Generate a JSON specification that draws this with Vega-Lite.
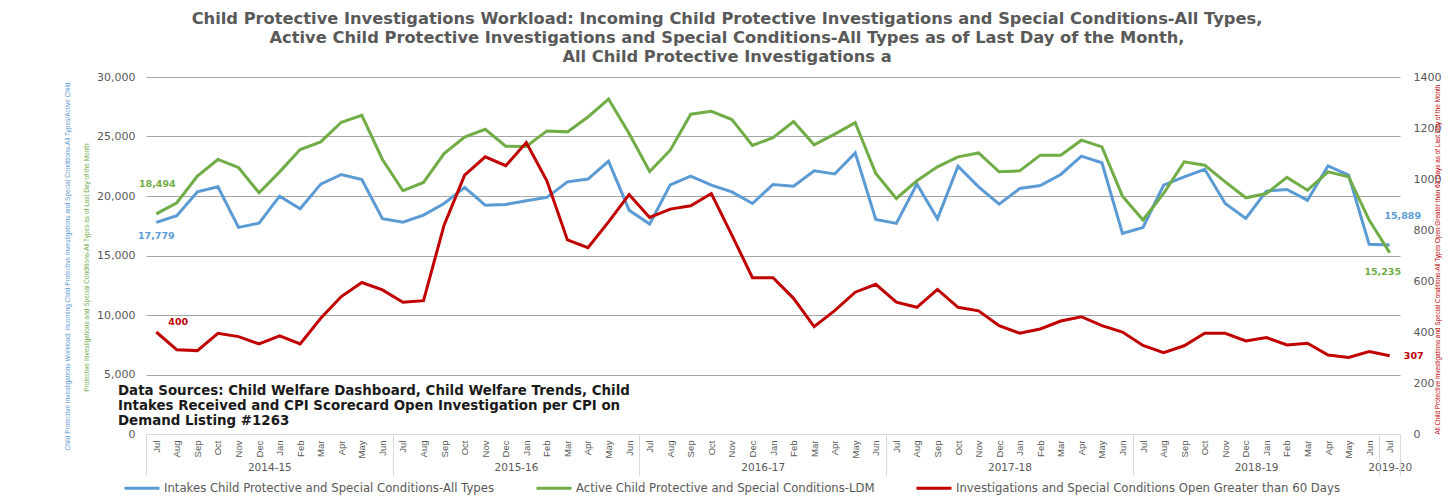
{
  "$schema": "https://vega.github.io/schema/vega-lite/v6.json",
  "width": 1254,
  "height": 357,
  "autosize": {"type": "none"},
  "padding": {"left": 146, "top": 77, "right": 52, "bottom": 63},
  "background": "white",
  "config": {"view": {"stroke": null}, "font": "DejaVu Sans"},
  "title": {
    "text": [
      "Child Protective Investigations Workload: Incoming Child Protective Investigations and Special Conditions-All Types,",
      "Active Child Protective Investigations and Special Conditions-All Types as of Last Day of the Month,",
      "All Child Protective Investigations a"
    ],
    "font": "DejaVu Sans",
    "fontSize": 16.3,
    "fontWeight": "bold",
    "color": "#595959",
    "anchor": "middle",
    "frame": "group",
    "dx": -46,
    "offset": 6,
    "lineHeight": 18.7
  },
  "data": {
    "values": [
      {"i": 0, "month": "Jul", "intakes": 17779, "active": 18494, "open60": 400},
      {"i": 1, "month": "Aug", "intakes": 18340, "active": 19430, "open60": 330},
      {"i": 2, "month": "Sep", "intakes": 20350, "active": 21670, "open60": 327},
      {"i": 3, "month": "Oct", "intakes": 20770, "active": 23070, "open60": 395},
      {"i": 4, "month": "Nov", "intakes": 17360, "active": 22390, "open60": 382},
      {"i": 5, "month": "Dec", "intakes": 17720, "active": 20270, "open60": 353},
      {"i": 6, "month": "Jan", "intakes": 19990, "active": 22030, "open60": 385},
      {"i": 7, "month": "Feb", "intakes": 18930, "active": 23900, "open60": 353},
      {"i": 8, "month": "Mar", "intakes": 21000, "active": 24550, "open60": 454},
      {"i": 9, "month": "Apr", "intakes": 21810, "active": 26200, "open60": 539},
      {"i": 10, "month": "May", "intakes": 21390, "active": 26780, "open60": 594},
      {"i": 11, "month": "Jun", "intakes": 18090, "active": 23070, "open60": 565},
      {"i": 12, "month": "Jul", "intakes": 17800, "active": 20440, "open60": 517},
      {"i": 13, "month": "Aug", "intakes": 18390, "active": 21140, "open60": 523},
      {"i": 14, "month": "Sep", "intakes": 19370, "active": 23570, "open60": 819},
      {"i": 15, "month": "Oct", "intakes": 20720, "active": 24950, "open60": 1015},
      {"i": 16, "month": "Nov", "intakes": 19230, "active": 25610, "open60": 1087},
      {"i": 17, "month": "Dec", "intakes": 19290, "active": 24180, "open60": 1052},
      {"i": 18, "month": "Jan", "intakes": 19600, "active": 24160, "open60": 1143},
      {"i": 19, "month": "Feb", "intakes": 19880, "active": 25470, "open60": 993},
      {"i": 20, "month": "Mar", "intakes": 21190, "active": 25390, "open60": 761},
      {"i": 21, "month": "Apr", "intakes": 21420, "active": 26640, "open60": 731},
      {"i": 22, "month": "May", "intakes": 22930, "active": 28150, "open60": 832},
      {"i": 23, "month": "Jun", "intakes": 18810, "active": 25250, "open60": 939},
      {"i": 24, "month": "Jul", "intakes": 17640, "active": 22060, "open60": 849},
      {"i": 25, "month": "Aug", "intakes": 20940, "active": 23850, "open60": 882},
      {"i": 26, "month": "Sep", "intakes": 21670, "active": 26870, "open60": 895},
      {"i": 27, "month": "Oct", "intakes": 20910, "active": 27120, "open60": 943},
      {"i": 28, "month": "Nov", "intakes": 20350, "active": 26420, "open60": 780},
      {"i": 29, "month": "Dec", "intakes": 19370, "active": 24250, "open60": 613},
      {"i": 30, "month": "Jan", "intakes": 20970, "active": 24910, "open60": 613},
      {"i": 31, "month": "Feb", "intakes": 20830, "active": 26250, "open60": 532},
      {"i": 32, "month": "Mar", "intakes": 22110, "active": 24300, "open60": 421},
      {"i": 33, "month": "Apr", "intakes": 21850, "active": 25200, "open60": 484},
      {"i": 34, "month": "May", "intakes": 23620, "active": 26170, "open60": 556},
      {"i": 35, "month": "Jun", "intakes": 18030, "active": 21890, "open60": 587},
      {"i": 36, "month": "Jul", "intakes": 17700, "active": 19790, "open60": 517},
      {"i": 37, "month": "Aug", "intakes": 21000, "active": 21280, "open60": 497},
      {"i": 38, "month": "Sep", "intakes": 18090, "active": 22450, "open60": 567},
      {"i": 39, "month": "Oct", "intakes": 22510, "active": 23290, "open60": 497},
      {"i": 40, "month": "Nov", "intakes": 20770, "active": 23620, "open60": 483},
      {"i": 41, "month": "Dec", "intakes": 19320, "active": 22030, "open60": 425},
      {"i": 42, "month": "Jan", "intakes": 20630, "active": 22110, "open60": 395},
      {"i": 43, "month": "Feb", "intakes": 20880, "active": 23430, "open60": 412},
      {"i": 44, "month": "Mar", "intakes": 21810, "active": 23430, "open60": 443},
      {"i": 45, "month": "Apr", "intakes": 23350, "active": 24690, "open60": 460},
      {"i": 46, "month": "May", "intakes": 22790, "active": 24130, "open60": 425},
      {"i": 47, "month": "Jun", "intakes": 16860, "active": 19990, "open60": 400},
      {"i": 48, "month": "Jul", "intakes": 17360, "active": 17980, "open60": 347},
      {"i": 49, "month": "Aug", "intakes": 20910, "active": 20210, "open60": 319},
      {"i": 50, "month": "Sep", "intakes": 21610, "active": 22870, "open60": 346},
      {"i": 51, "month": "Oct", "intakes": 22250, "active": 22590, "open60": 395},
      {"i": 52, "month": "Nov", "intakes": 19370, "active": 21190, "open60": 395},
      {"i": 53, "month": "Dec", "intakes": 18120, "active": 19850, "open60": 365},
      {"i": 54, "month": "Jan", "intakes": 20410, "active": 20210, "open60": 378},
      {"i": 55, "month": "Feb", "intakes": 20550, "active": 21560, "open60": 349},
      {"i": 56, "month": "Mar", "intakes": 19650, "active": 20490, "open60": 356},
      {"i": 57, "month": "Apr", "intakes": 22530, "active": 22030, "open60": 310},
      {"i": 58, "month": "May", "intakes": 21750, "active": 21610, "open60": 300},
      {"i": 59, "month": "Jun", "intakes": 15940, "active": 17980, "open60": 323},
      {"i": 60, "month": "Jul", "intakes": 15889, "active": 15235, "open60": 307}
    ]
  },
  "resolve": {
    "scale": {"y": "independent"},
    "axis": {"x": "independent", "y": "independent"}
  },
  "layer": [
    {
      "encoding": {
        "x": {
          "field": "i",
          "type": "quantitative",
          "scale": {"domain": [-0.5, 60.5], "nice": false, "zero": false},
          "axis": {
            "orient": "bottom",
            "values": [0,1,2,3,4,5,6,7,8,9,10,11,12,13,14,15,16,17,18,19,20,21,22,23,24,25,26,27,28,29,30,31,32,33,34,35,36,37,38,39,40,41,42,43,44,45,46,47,48,49,50,51,52,53,54,55,56,57,58,59,60],
            "labelExpr": "['Jul','Aug','Sep','Oct','Nov','Dec','Jan','Feb','Mar','Apr','May','Jun'][datum.value % 12]",
            "labelAngle": -90,
            "ticks": false,
            "tickSize": 0,
            "domain": false,
            "grid": false,
            "labelPadding": 6,
            "labelFont": "Liberation Sans",
            "labelFontSize": 9.5,
            "labelColor": "#595959",
            "labelOverlap": false,
            "labelFlush": false,
            "labelBound": false,
            "title": null
          }
        },
        "y": {
          "field": "intakes",
          "type": "quantitative",
          "scale": {"domain": [0, 30000], "nice": false},
          "axis": {
            "orient": "left",
            "labels": false,
            "ticks": false,
            "domain": false,
            "grid": false,
            "title": "Child Protective Investigations Workload: Incoming Child Protective Investigations and Special Conditions-All Types/Active Child",
            "titleColor": "#5B9BD5",
            "titleFont": "Liberation Sans",
            "titleFontSize": 6.5,
            "titleFontWeight": "normal",
            "titlePadding": 76,
            "titleY": 189
          }
        }
      },
      "layer": [
        {
          "mark": {"type": "line", "strokeWidth": 3},
          "encoding": {
            "color": {
              "datum": "Intakes Child Protective and Special Conditions-All Types",
              "scale": {
                "domain": [
                  "Intakes Child Protective and Special Conditions-All Types",
                  "Active Child Protective and Special Conditions-LDM",
                  "Investigations and Special Conditions Open Greater than 60 Days"
                ],
                "range": ["#5B9BD5", "#70AD47", "#C00000"]
              },
              "legend": {
                "orient": "none",
                "legendX": -23,
                "legendY": 392,
                "direction": "horizontal",
                "title": null,
                "symbolType": "stroke",
                "symbolSize": 1225,
                "symbolStrokeWidth": 3,
                "labelFont": "DejaVu Sans",
                "labelFontSize": 11.7,
                "labelColor": "#595959",
                "labelOffset": 3,
                "labelLimit": 0,
                "columnPadding": 35
              }
            }
          }
        },
        {
          "transform": [{"filter": "datum.i == 0"}],
          "mark": {"type": "text", "dx": 0, "dy": 14, "fontSize": 9.5, "fontWeight": "bold", "color": "#5B9BD5"},
          "encoding": {"text": {"field": "intakes", "format": ","}}
        },
        {
          "transform": [{"filter": "datum.i == 60"}],
          "mark": {"type": "text", "dx": 13, "dy": -29, "fontSize": 9.5, "fontWeight": "bold", "color": "#5B9BD5"},
          "encoding": {"text": {"field": "intakes", "format": ","}}
        }
      ]
    },
    {
      "encoding": {
        "x": {
          "field": "i",
          "type": "quantitative",
          "scale": {"domain": [-0.5, 60.5], "nice": false, "zero": false},
          "axis": {
            "orient": "bottom",
            "values": [5.5, 17.5, 29.5, 41.5, 53.5, 60],
            "labelExpr": "datum.value == 60 ? '2019-20' : (2014 + floor(datum.value / 12)) + '-' + (15 + floor(datum.value / 12))",
            "ticks": false,
            "tickSize": 0,
            "domain": false,
            "grid": false,
            "offset": 28,
            "labelPadding": 0,
            "labelBaseline": "top",
            "labelFont": "DejaVu Sans",
            "labelFontSize": 10.5,
            "labelColor": "#595959",
            "labelOverlap": false,
            "labelFlush": false,
            "labelBound": false,
            "title": null
          }
        },
        "y": {
          "field": "active",
          "type": "quantitative",
          "scale": {"domain": [0, 30000], "nice": false},
          "axis": {
            "orient": "left",
            "values": [0, 5000, 10000, 15000, 20000, 25000, 30000],
            "format": ",.0f",
            "ticks": false,
            "tickSize": 0,
            "domain": false,
            "grid": true,
            "gridColor": {"condition": {"test": "datum.value === 0", "value": "#d9d9d9"}, "value": "#a6a6a6"},
            "gridWidth": 1,
            "labelPadding": 11,
            "labelFont": "DejaVu Sans",
            "labelFontSize": 11,
            "labelColor": "#595959",
            "title": "Protective Investigations and Special Conditions-All Types as of Last Day of the Month",
            "titleColor": "#70AD47",
            "titleFont": "Liberation Sans",
            "titleFontSize": 6.5,
            "titleFontWeight": "normal",
            "titlePadding": 7,
            "titleY": 190
          }
        }
      },
      "layer": [
        {
          "mark": {"type": "line", "strokeWidth": 3},
          "encoding": {"color": {"datum": "Active Child Protective and Special Conditions-LDM"}}
        },
        {
          "transform": [{"filter": "datum.i == 0"}],
          "mark": {"type": "text", "dx": 1, "dy": -30, "fontSize": 9.5, "fontWeight": "bold", "color": "#70AD47"},
          "encoding": {"text": {"field": "active", "format": ","}}
        },
        {
          "transform": [{"filter": "datum.i == 60"}],
          "mark": {"type": "text", "dx": -7, "dy": 19, "fontSize": 9.5, "fontWeight": "bold", "color": "#70AD47"},
          "encoding": {"text": {"field": "active", "format": ","}}
        }
      ]
    },
    {
      "encoding": {
        "x": {
          "field": "i",
          "type": "quantitative",
          "scale": {"domain": [-0.5, 60.5], "nice": false, "zero": false},
          "axis": {
            "orient": "bottom",
            "values": [-0.5, 11.5, 23.5, 35.5, 47.5, 59.5, 60.5],
            "labels": false,
            "ticks": true,
            "tickSize": 41,
            "tickColor": "#d9d9d9",
            "domain": true,
            "domainColor": "#d9d9d9",
            "grid": false,
            "title": null
          }
        },
        "y": {
          "field": "open60",
          "type": "quantitative",
          "scale": {"domain": [0, 1400], "nice": false},
          "axis": {
            "orient": "right",
            "values": [0, 200, 400, 600, 800, 1000, 1200, 1400],
            "format": "d",
            "ticks": false,
            "tickSize": 0,
            "domain": false,
            "grid": false,
            "labelPadding": 13,
            "labelFont": "DejaVu Sans",
            "labelFontSize": 11,
            "labelColor": "#595959",
            "title": "All Child Protective Investigations and Special Conditions-All Types Open Greater than 60 Days as of Last Day of the Month",
            "titleColor": "#C00000",
            "titleFont": "Liberation Sans",
            "titleFontSize": 6.4,
            "titleFontWeight": "normal",
            "titleAngle": 270,
            "titlePadding": 0,
            "titleY": 182
          }
        }
      },
      "layer": [
        {
          "mark": {"type": "line", "strokeWidth": 3},
          "encoding": {"color": {"datum": "Investigations and Special Conditions Open Greater than 60 Days"}}
        },
        {
          "transform": [{"filter": "datum.i == 0"}],
          "mark": {"type": "text", "dx": 22, "dy": -10, "fontSize": 9.5, "fontWeight": "bold", "color": "#C00000"},
          "encoding": {"text": {"field": "open60", "format": "d"}}
        },
        {
          "transform": [{"filter": "datum.i == 60"}],
          "mark": {"type": "text", "dx": 24, "dy": 0, "fontSize": 9.5, "fontWeight": "bold", "color": "#C00000"},
          "encoding": {"text": {"field": "open60", "format": "d"}}
        }
      ]
    },
    {
      "data": {"values": [{"note": "source"}]},
      "mark": {
        "type": "text",
        "align": "left",
        "baseline": "top",
        "dx": -28,
        "font": "DejaVu Sans",
        "fontSize": 13.4,
        "fontWeight": "bold",
        "color": "#1a1a1a",
        "lineHeight": 15
      },
      "encoding": {
        "x": {"datum": -0.5, "type": "quantitative", "axis": null},
        "y": {"datum": 4200, "type": "quantitative", "scale": {"domain": [0, 30000], "nice": false}, "axis": null},
        "text": {
          "value": [
            "Data Sources: Child Welfare Dashboard, Child Welfare Trends, Child",
            "Intakes Received and CPI Scorecard Open Investigation per CPI on",
            "Demand Listing #1263"
          ]
        }
      }
    }
  ]
}
